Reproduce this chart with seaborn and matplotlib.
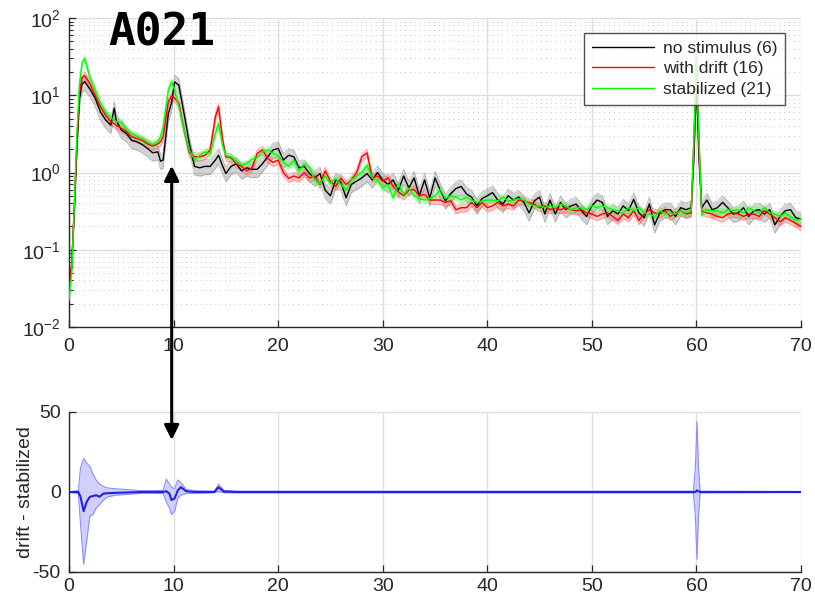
import numpy as np
import pandas as pd
import matplotlib
matplotlib.use("Agg")
import matplotlib.pyplot as plt
import seaborn as sns
from matplotlib.patches import ConnectionPatch
from matplotlib.ticker import FixedLocator, FixedFormatter, NullFormatter

# ---------------- spectra (power vs frequency, Hz) ----------------
freq = [
    0.0, 0.25, 0.5, 0.75, 1.0, 1.25, 1.5, 2.0, 2.5, 3.0,
    3.5, 4.0, 4.33, 4.5, 5.0, 5.5, 6.0, 6.5, 7.0, 7.5,
    8.0, 8.5, 8.75, 9.0, 9.5, 9.8, 10.1, 10.5, 11.0, 11.5,
    12.0, 12.5, 13.0, 13.5, 14.0, 14.3, 14.7, 15.0,
    15.5, 16.0, 16.5, 17.0, 17.5, 18.0, 18.5, 19.0, 19.5, 20.0,
    20.5, 21.0, 21.5, 22.0, 22.5, 23.0, 23.5, 24.0, 24.5, 25.0,
    25.5, 26.0, 26.5, 27.0, 27.5, 28.0, 28.5, 29.0, 29.5, 30.0,
    30.5, 31.0, 31.5, 32.0, 32.5, 33.0, 33.5, 34.0, 34.5, 35.0,
    35.5, 36.0, 36.5, 37.0, 37.5, 38.0, 38.5, 39.0, 39.5, 40.0,
    40.5, 41.0, 41.5, 42.0, 42.5, 43.0, 43.5, 44.0, 44.5, 45.0,
    45.5, 46.0, 46.5, 47.0, 47.5, 48.0, 48.5, 49.0, 49.5, 50.0,
    50.5, 51.0, 51.5, 52.0, 52.5, 53.0, 53.5, 54.0, 54.5, 55.0,
    55.5, 56.0, 56.5, 57.0, 57.5, 58.0, 58.5, 59.0, 59.5,
    59.75, 60.0, 60.25,
    60.5, 61.0, 61.5, 62.0, 62.5, 63.0, 63.5, 64.0, 64.5, 65.0,
    65.5, 66.0, 66.5, 67.0, 67.5, 68.0, 68.5, 69.0, 69.5, 70.0,
]

no_stimulus = [
    0.035, 0.06, 0.3, 2.0, 9.0, 14.0, 15.0, 12.0, 9.2, 6.1,
    4.8, 4.1, 6.8, 4.8, 3.55, 3.2, 2.6, 2.5, 2.3, 2.05,
    1.8, 1.85, 1.4, 1.45, 5.8, 7.9, 14.9, 13.5, 5.8, 2.4,
    1.2, 1.15, 1.2, 1.2, 1.45, 1.67, 1.2, 0.97,
    1.2, 1.3, 1.05, 1.15, 1.1, 1.1, 1.3, 1.6, 1.96, 2.05,
    1.45, 1.67, 1.6, 1.15, 1.2, 0.97, 0.85, 0.97, 0.59, 0.5,
    0.8, 0.75, 0.47, 0.7, 0.77, 0.85, 0.97, 0.8, 1.0, 0.8,
    0.7, 0.8, 0.59, 0.9, 0.63, 0.85, 0.5, 0.8, 0.47, 0.85,
    0.59, 0.43, 0.53, 0.62, 0.66, 0.53, 0.48, 0.37, 0.46, 0.5,
    0.55, 0.44, 0.39, 0.5, 0.44, 0.48, 0.41, 0.3, 0.43, 0.48,
    0.29, 0.44, 0.29, 0.41, 0.33, 0.37, 0.39, 0.32, 0.27, 0.37,
    0.44, 0.41, 0.27, 0.32, 0.29, 0.37, 0.32, 0.45, 0.3, 0.26,
    0.39, 0.21, 0.3, 0.33, 0.33, 0.27, 0.35, 0.33, 0.35,
    1.5, 15.0, 1.5,
    0.35, 0.44, 0.33, 0.35, 0.41, 0.35, 0.29, 0.3, 0.35, 0.27,
    0.32, 0.33, 0.29, 0.33, 0.21, 0.27, 0.32, 0.33, 0.26, 0.25,
]

with_drift = [
    0.03, 0.06, 0.35, 2.5, 11.0, 17.0, 18.0, 14.0, 10.0, 7.1,
    5.5, 4.55, 4.3, 4.1, 3.75, 3.4, 2.9, 2.75, 2.6, 2.35,
    2.2, 2.35, 2.5, 2.9, 8.3, 9.8, 9.2, 7.9, 3.55, 1.8,
    1.6, 1.6, 1.67, 1.96, 5.3, 7.1, 2.6, 1.6,
    1.55, 1.3, 1.2, 1.05, 1.15, 1.77, 1.96, 1.52, 1.35, 1.45,
    1.0, 0.84, 0.9, 0.85, 1.0, 0.85, 0.9, 0.7, 1.05, 0.77,
    0.66, 0.84, 0.7, 0.8, 1.0, 1.6, 1.8, 0.85, 0.9, 0.77,
    0.85, 0.66, 0.56, 0.5, 0.59, 0.6, 0.5, 0.52, 0.44, 0.44,
    0.44, 0.41, 0.43, 0.33, 0.35, 0.35, 0.41, 0.35, 0.41, 0.35,
    0.37, 0.41, 0.37, 0.39, 0.37, 0.44, 0.43, 0.41, 0.39, 0.35,
    0.37, 0.33, 0.35, 0.33, 0.35, 0.33, 0.32, 0.33, 0.3, 0.29,
    0.27, 0.29, 0.3, 0.27, 0.24, 0.29, 0.26, 0.32, 0.24, 0.29,
    0.33, 0.3, 0.29, 0.32, 0.27, 0.3, 0.32, 0.29, 0.3,
    2.5, 30.0, 2.5,
    0.32, 0.3, 0.29, 0.27, 0.26, 0.29, 0.3, 0.29, 0.27, 0.29,
    0.29, 0.27, 0.32, 0.29, 0.26, 0.23, 0.26, 0.24, 0.22, 0.2,
]

stabilized = [
    0.022, 0.05, 0.35, 3.0, 14.0, 26.0, 30.0, 17.0, 11.7, 7.9,
    6.1, 5.1, 4.8, 4.55, 4.55, 3.55, 3.2, 2.9, 2.75, 2.5,
    2.3, 2.5, 2.9, 3.9, 11.7, 14.9, 11.7, 7.1, 3.55, 1.96,
    1.45, 1.67, 1.85, 1.75, 3.2, 4.3, 2.2, 1.67,
    1.6, 1.4, 1.25, 1.3, 1.5, 1.55, 1.85, 1.96, 1.77, 1.65,
    1.35, 1.2, 1.45, 1.05, 1.3, 1.15, 0.8, 0.72, 0.9, 0.72,
    0.84, 0.7, 0.59, 0.8, 0.9, 1.0, 1.25, 0.84, 0.8, 0.63,
    0.7, 0.47, 0.72, 0.52, 0.63, 0.5, 0.46, 0.44, 0.46, 0.5,
    0.6, 0.46, 0.5, 0.48, 0.44, 0.48, 0.44, 0.41, 0.43, 0.44,
    0.44, 0.43, 0.48, 0.43, 0.44, 0.46, 0.44, 0.39, 0.37, 0.37,
    0.35, 0.37, 0.35, 0.39, 0.37, 0.33, 0.35, 0.35, 0.33, 0.37,
    0.35, 0.37, 0.35, 0.33, 0.32, 0.3, 0.35, 0.32, 0.35, 0.3,
    0.29, 0.27, 0.32, 0.29, 0.3, 0.29, 0.32, 0.3, 0.32,
    2.5, 30.0, 2.5,
    0.29, 0.33, 0.32, 0.32, 0.3, 0.33, 0.32, 0.33, 0.3, 0.35,
    0.32, 0.3, 0.35, 0.3, 0.29, 0.27, 0.3, 0.27, 0.24, 0.25,
]

labels = ["no stimulus (6)", "with drift (16)", "stabilized (21)"]
line_colors = ["#000000", "#ff0000", "#00ff00"]
band_colors = ["#808080", "#ff6060", "#60ff60"]
# relative standard error of each group mean
rel_sem = [0.22, 0.12, 0.10]

# ---------------- drift minus stabilized ----------------
diff_freq = [0.0, 0.9, 1.1, 1.4, 1.7, 2.0, 2.3, 2.6, 2.9, 3.3,
             3.7, 4.5, 5.5, 7.0, 9.0, 9.3, 9.6, 9.8, 10.1, 10.4,
             10.7, 11.2, 12.0, 13.9, 14.3, 14.8, 16.0, 59.7, 59.9, 60.05,
             60.2, 60.35, 70.0]
diff_mean = [0, 0, -3, -12, -6, -3, -2.5, -2, -3, -1,
             -0.8, -0.5, -0.3, 0, 0, 0.5, -1, -5, -4, 1,
             3, 0.5, 0, 0, 3, 0.3, 0, 0, 0, 1.0,
             0.5, 0, 0]
diff_upper = [0, 1, 15, 21, 18, 16, 11, 7.5, 5, 3.5,
              2.5, 2, 1.5, 0.8, 1, 8, 5, 3, 2, 7.5,
              6, 1.5, 0.8, 0.5, 5, 1.0, 0.5, 0.5, 15, 44,
              15, 0.5, 0.3]
diff_lower = [0, -1, -20, -45, -30, -15, -14, -10, -8, -5,
              -3, -2, -1.5, -0.8, -1, -6, -10, -14, -12, -4,
              -2, -1, -0.8, -0.5, 0.5, -0.5, -0.5, -0.5, -15, -42,
              -15, -0.5, -0.3]

# ---------------- styling ----------------
sns.set_theme(style="white")
plt.rcParams["font.family"] = ["Liberation Sans", "DejaVu Sans"]
plt.rcParams["mathtext.default"] = "regular"
plt.rcParams["axes.unicode_minus"] = False

W, H = 815, 597
fig = plt.figure(figsize=(W / 100, H / 100), dpi=100)
fig.patch.set_facecolor("white")

def frac_box(left, top, right, bottom):
    return [left / W, 1 - bottom / H, (right - left) / W, (bottom - top) / H]

ax1 = fig.add_axes(frac_box(69, 18, 801, 327))
ax2 = fig.add_axes(frac_box(69, 412, 801, 572))

tick_col = "#262626"
spine_col = "#262626"
grid_col = "#dedede"

# shaded error bands and mean lines
spec = pd.DataFrame({"freq": freq, labels[0]: no_stimulus,
                     labels[1]: with_drift, labels[2]: stabilized})
for lab, lc, bc, rs in zip(labels, line_colors, band_colors, rel_sem):
    y = spec[lab].to_numpy()
    lo, hi = y * (1 - rs), y * (1 + rs)
    ax1.fill_between(spec["freq"], lo, hi, color=bc, alpha=0.35, lw=0, zorder=2)
    ax1.plot(spec["freq"], lo, color=bc, alpha=0.5, lw=0.6, zorder=2)
    ax1.plot(spec["freq"], hi, color=bc, alpha=0.5, lw=0.6, zorder=2)
for lab, lc in zip(labels, line_colors):
    sns.lineplot(data=spec, x="freq", y=lab, ax=ax1, color=lc, lw=1.0,
                 label=lab, sort=False, estimator=None, zorder=3)

ax1.set_yscale("log")
ax1.set_xlim(0, 70)
ax1.set_ylim(1e-2, 1e2)
ax1.set_xlabel("")
ax1.set_ylabel("")
ax1.set_xticks(range(0, 71, 10))
ax1.set_xticklabels([str(v) for v in range(0, 71, 10)])
ax1.yaxis.set_major_locator(FixedLocator([1e-2, 1e-1, 1e0, 1e1, 1e2]))
ax1.yaxis.set_major_formatter(FixedFormatter(
    ["10$^{-2}$", "10$^{-1}$", "10$^{0}$", "10$^{1}$", "10$^{2}$"]))
minor = [m * 10.0 ** e for e in range(-2, 2) for m in range(2, 10)]
ax1.yaxis.set_minor_locator(FixedLocator(minor))
ax1.yaxis.set_minor_formatter(NullFormatter())
ax1.grid(True, which="major", color=grid_col, lw=1.0, zorder=0)
ax1.grid(True, which="minor", axis="y", color="#c4c4c4", lw=0.7,
         linestyle=(0, (1, 4)), zorder=0)
ax1.set_axisbelow(True)

leg = ax1.legend(loc="upper right", bbox_to_anchor=((785 - 69) / 732, 1 - (33 - 18) / 309),
                 borderaxespad=0, fontsize=12.5, frameon=True, fancybox=False,
                 handlelength=3.6, handletextpad=0.5, labelspacing=0.3,
                 borderpad=0.45)
leg.get_frame().set_edgecolor("#262626")
leg.get_frame().set_linewidth(1.0)
for t in leg.get_texts():
    t.set_color(tick_col)

# difference panel
ax2.fill_between(diff_freq, diff_lower, diff_upper, color="#c8c8ff", alpha=0.85,
                 lw=0, zorder=2)
ax2.plot(diff_freq, diff_lower, color="#8c8cff", lw=0.8, zorder=2)
ax2.plot(diff_freq, diff_upper, color="#8c8cff", lw=0.8, zorder=2)
diff = pd.DataFrame({"freq": diff_freq, "diff": diff_mean})
sns.lineplot(data=diff, x="freq", y="diff", ax=ax2, color="#2020e6", lw=1.5,
             sort=False, estimator=None, zorder=3)
ax2.set_xlim(0, 70)
ax2.set_ylim(-50, 50)
ax2.set_xticks(range(0, 71, 10))
ax2.set_xticklabels([str(v) for v in range(0, 71, 10)])
ax2.set_yticks([-50, 0, 50])
ax2.set_yticklabels(["-50", "0", "50"])
ax2.set_xlabel("")
ax2.set_ylabel("drift - stabilized", fontsize=14, color=tick_col, labelpad=-1)
ax2.grid(True, which="major", color=grid_col, lw=1.0, zorder=0)
ax2.set_axisbelow(True)

for ax in (ax1, ax2):
    for side in ("top", "right"):
        ax.spines[side].set_visible(False)
    for side in ("left", "bottom"):
        ax.spines[side].set_color(spine_col)
        ax.spines[side].set_linewidth(1.0)
    ax.tick_params(axis="both", which="major", direction="in", length=5,
                   width=0.9, color=spine_col, labelcolor=tick_col,
                   labelsize=14, left=True, bottom=True)
    ax.tick_params(axis="y", which="major", pad=6)
    ax.tick_params(axis="y", which="minor", direction="in", length=3,
                   width=0.8, color=spine_col, left=True)
    ax.set_facecolor("white")
ax1.tick_params(axis="x", which="major", pad=8)
ax2.tick_params(axis="x", which="major", pad=4)

# double-headed arrow linking the alpha peak in both panels
arrow = ConnectionPatch(xyA=(9.82, 1.22), coordsA=ax1.transData,
                        xyB=(9.82, 32.5), coordsB=ax2.transData,
                        arrowstyle="<|-|>", mutation_scale=22, lw=2.2,
                        color="black", zorder=10)
fig.add_artist(arrow)

fig.text(108 / W, 1 - 46 / H, "A021", fontsize=32, fontweight="bold",
         family="DejaVu Sans Mono", color="black", va="baseline", ha="left")

fig.savefig("out.png", dpi=100, facecolor="white")
